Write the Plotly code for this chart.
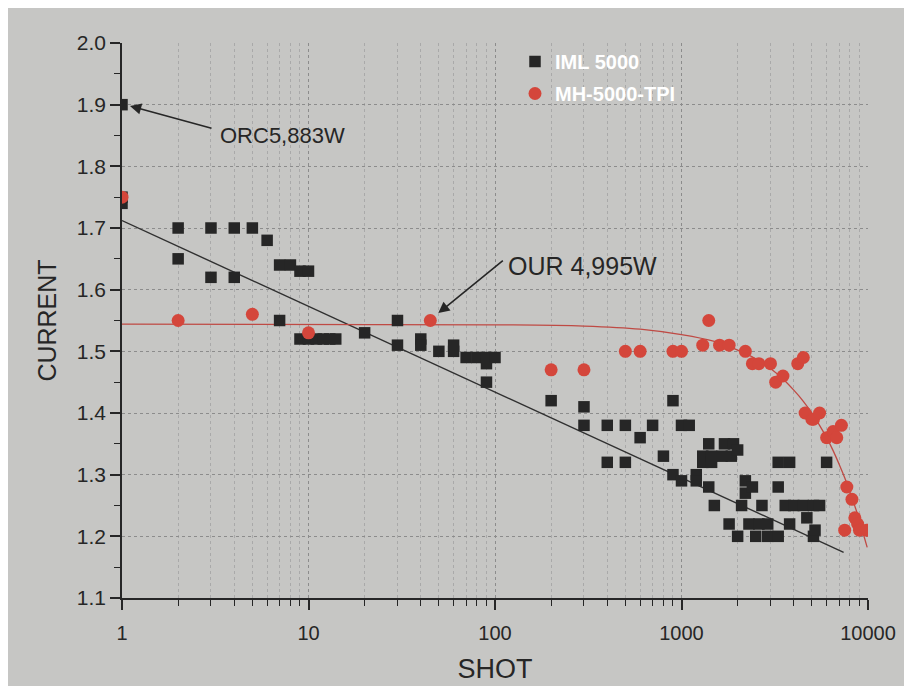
import plotly.graph_objects as go

# ---- data ----
iml_shot = [1, 1, 1, 2, 2, 3, 3, 4, 4, 5, 6, 7, 7, 8, 9, 9, 10, 10, 11, 12, 13, 14,
            20, 30, 30, 40, 40, 50, 60, 60, 70, 80, 90, 90, 90, 100,
            200, 300, 300, 400, 400, 500, 500, 600, 700, 800, 900, 900, 1000, 1000, 1100,
            1200, 1200, 1300, 1300, 1400, 1400, 1450, 1450, 1500, 1650, 1700, 1800, 1850,
            1900, 2000, 2000, 2100, 2200, 2200, 2300, 2400, 2500, 2600, 2700, 2900, 2900,
            3300, 3300, 3300, 3600, 3800, 3800, 4000, 4500, 4700, 5100, 5100, 5200, 5500, 6000]
iml_current = [1.90, 1.75, 1.74, 1.70, 1.65, 1.70, 1.62, 1.70, 1.62, 1.70, 1.68, 1.64, 1.55, 1.64,
               1.63, 1.52, 1.63, 1.52, 1.52, 1.52, 1.52, 1.52,
               1.53, 1.55, 1.51, 1.52, 1.51, 1.50, 1.51, 1.50, 1.49, 1.49, 1.49, 1.48, 1.45, 1.49,
               1.42, 1.41, 1.38, 1.38, 1.32, 1.38, 1.32, 1.36, 1.38, 1.33, 1.42, 1.30, 1.38, 1.29, 1.38,
               1.30, 1.29, 1.33, 1.32, 1.35, 1.28, 1.33, 1.32, 1.25, 1.33, 1.35, 1.22, 1.33,
               1.35, 1.34, 1.20, 1.25, 1.29, 1.27, 1.22, 1.28, 1.20, 1.22, 1.25, 1.22, 1.20,
               1.32, 1.28, 1.20, 1.25, 1.32, 1.22, 1.25, 1.25, 1.23, 1.25, 1.20, 1.21, 1.25, 1.32]

tpi_shot = [1, 2, 5, 10, 45, 200, 300, 500, 600, 900, 1000, 1300, 1400, 1600, 1800,
            2200, 2400, 2600, 3000, 3200, 3500, 4200, 4500, 4600, 5000, 5100, 5500,
            6000, 6500, 6800, 7200, 7700, 8200, 8500, 7500, 8800, 9000, 9800]
tpi_current = [1.75, 1.55, 1.56, 1.53, 1.55, 1.47, 1.47, 1.50, 1.50, 1.50, 1.50, 1.51, 1.55, 1.51, 1.51,
               1.50, 1.48, 1.48, 1.48, 1.45, 1.46, 1.48, 1.49, 1.40, 1.39, 1.39, 1.40,
               1.36, 1.37, 1.36, 1.38, 1.28, 1.26, 1.23, 1.21, 1.22, 1.21, 1.21]

# fitted lines
iml_fit_shot = [1, 7400]
iml_fit_current = [1.712, 1.174]
tpi_fit_shot = [1, 100, 300, 600, 1000, 1500, 2000, 2500, 3000, 3500, 4000, 4500, 5000,
                5500, 6000, 6500, 7000, 7500, 8000, 8500, 9000, 9500, 9900]
tpi_fit_current = [1.544, 1.543, 1.541, 1.536, 1.527, 1.516, 1.502, 1.488, 1.472, 1.455, 1.437,
                   1.419, 1.400, 1.380, 1.360, 1.339, 1.317, 1.295, 1.272, 1.249, 1.226, 1.201, 1.182]

x_tickvals = [1, 10, 100, 1000, 10000]
x_ticktext = ["1", "10", "100", "1000", "10000"]
series_names = ["IML 5000", "MH-5000-TPI"]
x_title = "SHOT"
y_title = "CURRENT"

FONT = "Liberation Sans, Arial, sans-serif"
INK = "#262626"
RED = "#d4463b"
BG = "#c6c6c4"

# plot area in screen pixels (page body adds an 8px offset)
OFF = 8
L, T, PW, PH = 122, 43, 746, 555
def px(xs): return (xs - L) / PW
def py(ys): return (T + PH - ys) / PH

fig = go.Figure()

fig.add_trace(go.Scatter(x=iml_fit_shot, y=iml_fit_current, mode="lines",
                         line=dict(color="#303030", width=1.4), showlegend=False, hoverinfo="skip"))
fig.add_trace(go.Scatter(x=tpi_fit_shot, y=tpi_fit_current, mode="lines",
                         line=dict(color="#bf4a44", width=1.3, shape="spline"),
                         showlegend=False, hoverinfo="skip"))
fig.add_trace(go.Scatter(x=iml_shot, y=iml_current, mode="markers", name=series_names[0],
                         legendgroup="a",
                         marker=dict(symbol="square", size=11.5, color=INK, line=dict(width=0))))
fig.add_trace(go.Scatter(x=tpi_shot, y=tpi_current, mode="markers", name=series_names[1],
                         legendgroup="b",
                         marker=dict(symbol="circle", size=13, color=RED, line=dict(width=0))))

arrow = dict(showarrow=True, arrowhead=2, arrowsize=1.4, arrowwidth=1.6, arrowcolor=INK,
             xref="x", yref="y", axref="x", ayref="y", text="")
fig.add_annotation(x=0.043, y=1.898, ax=0.488, ay=1.861, **arrow)
fig.add_annotation(x=1.696, y=1.562, ax=2.050, ay=1.649, **arrow)

fig.add_annotation(x=px(218), y=py(136), xref="paper", yref="paper", text="ORC5,883W",
                   showarrow=False, xanchor="left", yanchor="middle",
                   font=dict(family=FONT, size=22, color=INK))
fig.add_annotation(x=px(506), y=py(266), xref="paper", yref="paper", text="OUR 4,995W",
                   showarrow=False, xanchor="left", yanchor="middle",
                   font=dict(family=FONT, size=25, color=INK))

# photo area (thin white frame at right / bottom)
fig.add_shape(type="rect", xref="paper", yref="paper", x0=px(0), x1=px(907), y0=py(686), y1=py(0),
              fillcolor=BG, line=dict(width=0), layer="below")

fig.update_layout(
    width=912, height=691,
    margin=dict(l=L - OFF, r=912 - (L - OFF) - PW, t=T - OFF, b=691 - (T - OFF) - PH),
    paper_bgcolor="white", plot_bgcolor="rgba(0,0,0,0)",
    font=dict(family=FONT, color=INK),
    showlegend=True,
    legend=dict(x=px(515), y=py(42), xanchor="left", yanchor="top",
                bgcolor="rgba(0,0,0,0)", tracegroupgap=3,
                font=dict(family=FONT, size=20, color="white", weight="bold")),
    xaxis=dict(type="log", range=[0, 4], tickmode="array", tickvals=x_tickvals, ticktext=x_ticktext,
               showline=True, linecolor=INK, linewidth=1.5,
               ticks="outside", ticklen=10, tickwidth=1.5, tickcolor=INK,
               ticklabelstandoff=6,
               tickfont=dict(family=FONT, size=20, color=INK),
               showgrid=True, gridcolor="#8c8c8c", griddash="dot", gridwidth=1.2,
               zeroline=False,
               minor=dict(dtick="D1", ticks="outside", ticklen=6, tickwidth=1.3, tickcolor=INK,
                          showgrid=True, gridcolor="#a9a9a9", griddash="dot", gridwidth=1),
               title=dict(text=x_title, font=dict(family=FONT, size=27, color=INK), standoff=16)),
    yaxis=dict(range=[1.1, 2.0], tickmode="linear", tick0=1.1, dtick=0.1, tickformat=".1f",
               showline=True, linecolor=INK, linewidth=1.5,
               ticks="outside", ticklen=10, tickwidth=1.5, tickcolor=INK,
               ticklabelstandoff=0,
               tickfont=dict(family=FONT, size=21, color=INK),
               showgrid=True, gridcolor="#8c8c8c", griddash="dot", gridwidth=1.2,
               zeroline=False,
               minor=dict(dtick=0.05, ticks="outside", ticklen=6, tickwidth=1.3, tickcolor=INK,
                          showgrid=False),
               title=dict(text=y_title, font=dict(family=FONT, size=25, color=INK), standoff=13)),
)

fig.write_html("out.html")
